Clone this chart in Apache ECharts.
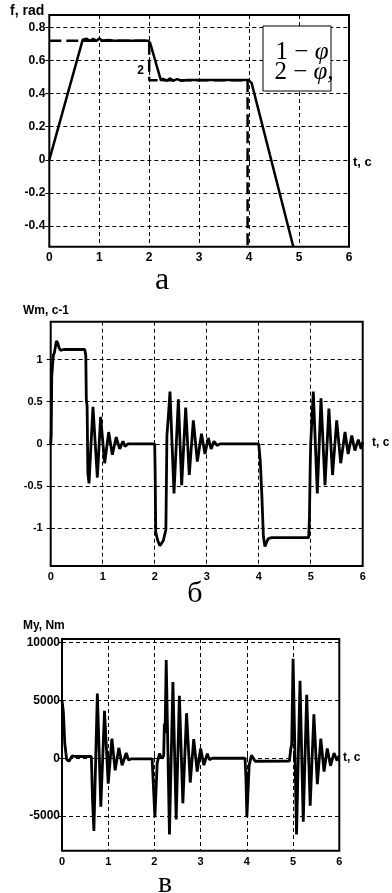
<!DOCTYPE html>
<html><head><meta charset="utf-8">
<script src="https://cdn.jsdelivr.net/npm/echarts@6/dist/echarts.min.js"></script>
<style>html,body{margin:0;padding:0;background:#fff}#c{width:392px;height:893px}</style>
</head><body><div id="c"></div>
<script>
// ---- tick labels ----
const xTicks = [0, 1, 2, 3, 4, 5, 6];
const phiTicks = [-0.4, -0.2, 0, 0.2, 0.4, 0.6, 0.8];
const wTicks = [-1, -0.5, 0, 0.5, 1];
const mTicks = [-5000, 0, 5000, 10000];

// ---- (a) angle phi, curve 1 (solid) ----
const phi1T = [0, 0.668, 0.75, 0.815, 0.88, 0.94, 1.0, 1.07, 1.18, 1.3, 1.98, 2.02, 2.236, 2.28, 2.35, 2.42, 2.48, 2.56, 2.65, 2.75, 3.98, 4.01, 4.05, 4.885];
const phi1V = [0, 0.725, 0.732, 0.718, 0.732, 0.718, 0.733, 0.719, 0.724, 0.72, 0.72, 0.705, 0.479, 0.49, 0.478, 0.492, 0.478, 0.488, 0.478, 0.483, 0.483, 0.478, 0.465, -0.525];
// ---- (a) curve 2 (dashed reference) ----
const phi2T = [0, 2.0, 2.0, 3.97, 3.97];
const phi2V = [0.72, 0.72, 0.48, 0.48, -0.525];

// ---- (б) Wm ----
const wT = [0, 0.01, 0.02, 0.035, 0.05, 0.07, 0.11, 0.14, 0.16, 0.19, 0.25, 0.655, 0.675, 0.685, 0.7, 0.715, 0.737, 0.813, 0.897, 0.96, 1.038, 1.115, 1.185, 1.26, 1.327, 1.39, 1.43, 1.487,
  2.0, 2.008, 2.02, 2.06, 2.1, 2.12, 2.165, 2.215, 2.235, 2.26, 2.294, 2.371, 2.455, 2.519, 2.596, 2.665, 2.743, 2.82, 2.9, 2.967, 3.03, 3.085, 3.14, 3.2, 3.256,
  4.0, 4.01, 4.03, 4.06, 4.09, 4.12, 4.15, 4.185, 4.25, 4.96, 4.975, 4.99, 5.0, 5.05, 5.127, 5.198, 5.275, 5.35, 5.42, 5.5, 5.577, 5.66, 5.72, 5.79, 5.85, 5.915, 5.97, 6.0];
const wV = [0, 0.1, 0.8, 0.82, 1.05, 1.08, 1.22, 1.19, 1.14, 1.11, 1.12, 1.12, 1.05, 0.52, 0.45, -0.35, -0.47, 0.44, -0.4, 0.32, -0.23, 0.14, -0.13, 0.08, -0.06, 0.03, -0.03, 0,
  0, -0.3, -1.05, -1.15, -1.21, -1.2, -1.15, -1.02, 0.1, 0.3, 0.62, -0.59, 0.53, -0.49, 0.43, -0.37, 0.28, -0.21, 0.12, -0.12, 0.07, -0.06, 0.03, -0.02, 0,
  0, -0.02, -0.2, -0.6, -1.1, -1.22, -1.17, -1.125, -1.113, -1.113, -0.9, -0.3, 0, 0.62, -0.59, 0.54, -0.49, 0.42, -0.37, 0.28, -0.23, 0.14, -0.12, 0.1, -0.08, 0.05, -0.06, 0.02];

// ---- (в) My ----
const mT = [0, 0.03, 0.06, 0.1, 0.15, 0.22, 0.3, 0.635, 0.66, 0.69, 0.765, 0.84, 0.92, 1.0, 1.08, 1.15, 1.23, 1.3, 1.39, 1.44, 1.5, 1.95,
  2.01, 2.06, 2.11, 2.15, 2.2, 2.215, 2.23, 2.255, 2.325, 2.4, 2.47, 2.54, 2.615, 2.695, 2.775, 2.85, 2.925, 3.0, 3.07, 3.145, 3.19, 3.25, 3.96,
  3.98, 4.0, 4.05, 4.1, 4.13, 4.18, 4.22, 4.92, 4.95, 4.97, 5.0, 5.075, 5.15, 5.22, 5.295, 5.37, 5.45, 5.525, 5.6, 5.67, 5.74, 5.81, 5.885, 5.95, 6.0];
const mV = [5000, 4000, 1300, -100, -250, 200, 150, 150, -3500, -6300, 5600, -4200, 4100, -2200, 1700, -1050, 900, -600, 450, -150, -50, -50,
  -5100, -400, 400, 0, 200, 3000, 2200, 8500, -6600, 6600, -5300, 5400, -3900, 3900, -2100, 1650, -1150, 850, -600, 400, -120, 0, 0,
  -1700, -5100, -600, 250, 300, -260, -250, -250, 800, 1200, 8600, -6600, 6700, -5500, 5500, -4100, 3800, -2250, 1700, -1150, 850, -650, 450, -200, 250];

const zip = (a, b) => a.map((x, i) => [x, b[i]]);

const grids = [
  {left: 49.3, top: 15, width: 299.7, height: 231.7},
  {left: 50.7, top: 321.7, width: 312, height: 244.3},
  {left: 62, top: 639, width: 277.3, height: 211.7}
];
const yCfg = [
  {min: -0.525, max: 0.875, ticks: phiTicks, fs: 12, margin: 4},
  {min: -1.45, max: 1.45, ticks: wTicks, fs: 11, margin: 8},
  {min: -8000, max: 10320, ticks: mTicks, fs: 12, margin: 2}
];
const xFs = [12, 11, 11];
const xMargin = [5, 5, 6];

const F = '"Liberation Sans", Arial, sans-serif';
const SERIF = '"Liberation Serif", "Times New Roman", serif';
const dash = {color: '#000', width: 1, type: [4, 3]};

const xAxis = [], yAxis = [], series = [];
grids.forEach((g, i) => {
  Object.assign(g, {show: true, borderColor: '#000', borderWidth: 2, backgroundColor: '#fff', outerBoundsMode: 'none', containLabel: false});
  xAxis.push({type: 'value', gridIndex: i, min: 0, max: 6, interval: 1, position: 'bottom',
    axisLine: {show: false}, axisTick: {show: true, inside: true, length: 4, lineStyle: {color: '#000'}},
    axisLabel: {color: '#000', fontFamily: F, fontWeight: 'bold', fontSize: xFs[i], margin: xMargin[i], formatter: v => String(v)},
    splitLine: {show: true, lineStyle: dash}});
  xAxis.push({type: 'value', gridIndex: i, min: 0, max: 6, interval: 1, position: 'top',
    axisLine: {show: false}, axisTick: {show: true, inside: true, length: 4, lineStyle: {color: '#000'}},
    axisLabel: {show: false}, splitLine: {show: false}});
  const y = yCfg[i];
  yAxis.push({type: 'value', gridIndex: i, min: y.min, max: y.max, position: 'left',
    axisLine: {show: false},
    axisTick: {show: true, inside: true, length: 4, lineStyle: {color: '#000'}, customValues: y.ticks},
    axisLabel: {color: '#000', fontFamily: F, fontWeight: 'bold', fontSize: y.fs, margin: y.margin, customValues: y.ticks, formatter: v => String(v)},
    splitLine: {show: true, lineStyle: dash}});
  yAxis.push({type: 'value', gridIndex: i, min: y.min, max: y.max, position: 'right',
    axisLine: {show: false},
    axisTick: {show: true, inside: true, length: 4, lineStyle: {color: '#000'}, customValues: y.ticks},
    axisLabel: {show: false}, splitLine: {show: false}});
});

const lineBase = {type: 'line', showSymbol: false, symbol: 'none', silent: true, animation: false, clip: true};
series.push(Object.assign({}, lineBase, {xAxisIndex: 0, yAxisIndex: 0, data: zip(phi2T, phi2V), lineStyle: {color: '#000', width: 2.5, type: [12, 5]}, z: 3}));
series.push(Object.assign({}, lineBase, {xAxisIndex: 0, yAxisIndex: 0, data: zip(phi1T, phi1V), lineStyle: {color: '#000', width: 2.5}, z: 4}));
series.push(Object.assign({}, lineBase, {xAxisIndex: 2, yAxisIndex: 2, data: zip(wT, wV), lineStyle: {color: '#000', width: 2.8}}));
series.push(Object.assign({}, lineBase, {xAxisIndex: 4, yAxisIndex: 4, data: zip(mT, mV), lineStyle: {color: '#000', width: 2.8}}));

const txt = (x, y, text, font, align) => ({type: 'text', x, y, z: 100,
  style: {text, font, fill: '#000', textAlign: align || 'center', textVerticalAlign: 'middle'}});

const chart = echarts.init(document.getElementById('c'), null, {renderer: 'canvas'});
chart.setOption({
  animation: false,
  backgroundColor: '#fff',
  grid: grids, xAxis, yAxis, series,
  graphic: [
    {type: 'rect', z: 90, shape: {x: 263, y: 26, width: 68, height: 65}, style: {fill: '#fff', stroke: '#000', lineWidth: 1}},
    {type: 'text', z: 100, x: 302, y: 52, style: {text: '{n|1 − }{p|φ}', textAlign: 'center', textVerticalAlign: 'middle',
      rich: {n: {font: '25px ' + SERIF, fill: '#000'}, p: {font: 'italic 25px ' + SERIF, fill: '#000'}}}},
    {type: 'text', z: 100, x: 304, y: 72, style: {text: '{n|2 − }{p|φ,}', textAlign: 'center', textVerticalAlign: 'middle',
      rich: {n: {font: '25px ' + SERIF, fill: '#000'}, p: {font: 'italic 25px ' + SERIF, fill: '#000'}}}},
    txt(140.5, 71, '2', 'bold 12px ' + F),
    txt(10, 11, 'f, rad', 'bold 14px ' + F, 'left'),
    txt(353, 162, 't, c', 'bold 13px ' + F, 'left'),
    txt(162, 281, 'а', '32px ' + SERIF),
    txt(23, 311, 'Wm, c-1', 'bold 12px ' + F, 'left'),
    txt(372, 443, 't, c', 'bold 12px ' + F, 'left'),
    txt(195, 594, 'б', '30px ' + SERIF),
    txt(23, 626, 'My, Nm', 'bold 12px ' + F, 'left'),
    txt(343, 758, 't, c', 'bold 12px ' + F, 'left'),
    txt(165, 884, 'в', '30px ' + SERIF)
  ]
});
</script></body></html>
